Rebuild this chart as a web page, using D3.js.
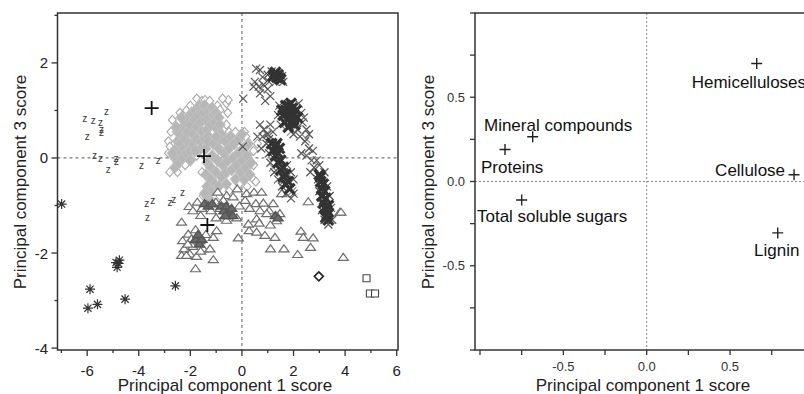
<!DOCTYPE html>
<html><head><meta charset="utf-8">
<script src="https://cdn.jsdelivr.net/npm/d3@7"></script>
<style>
html,body{margin:0;padding:0;background:#fff;}
svg{display:block;font-family:Arial,"Liberation Sans",sans-serif;}
</style></head>
<body>
<svg id="c" width="804" height="394"></svg>
<script>
// ---------- DATA: left panel (scores, PC1 vs PC3) ----------
const diamondEdge = [[-2.85,0.1],[-2.8,-0.3],[-2.75,0.55],[-2.7,0.8],[-2.4,0.95],[-2.15,1.0],[-2.0,1.1],[-1.75,1.25],[-1.55,1.2],[-1.43,1.22],[-1.25,1.2],[-0.95,1.1],[-0.85,1.01],[-0.6,1.15],[-0.53,1.22],[-0.55,0.95],[-0.6,0.7],[-2.5,-0.3],[-2.2,-0.15],[-1.75,0.05],[-2.85,0.35],[-2.79,0.24],[-0.75,1.25],
[-1.55,-0.3],[-1.55,0.1],[-1.5,-0.8],[-1.25,0.45],[-0.5,0.55],[-0.2,0.5],[0.1,0.55],[0.15,0.45],[0.45,0.15],[0.45,-0.15],[0.45,-0.45],[0.2,-0.6],[-0.1,-0.55],[-0.5,-0.7],[-0.85,-0.8],[-1.05,-0.95],[0.54,-0.5],[0.6,0.3],[-0.25,0.55],[-1.45,-1.0]];
const diamondCore = [[-2.6,-0.2],[-2.6,0.0],[-2.55,0.2],[-2.5,0.35],[-2.45,-0.1],[-2.4,0.1],[-2.4,0.3],[-2.35,0.5],[-2.3,0.65],[-2.25,0.2],[-2.2,0.4],[-2.2,0.75],[-2.1,0.55],[-2.1,0.85],[-2.05,0.3],[-2.0,0.7],[-1.95,0.95],[-1.9,0.5],[-1.85,0.8],[-1.8,1.0],[-1.75,0.65],[-1.7,0.9],[-1.65,1.1],[-1.6,0.75],[-1.55,0.55],[-1.5,0.95],[-1.45,1.1],[-1.4,0.8],[-1.35,0.6],[-1.3,1.0],[-1.25,0.85],[-1.2,0.7],[-1.15,1.05],[-1.1,0.9],[-1.05,0.75],[-1.0,0.95],[-0.95,0.6],[-0.9,0.85],[-0.85,0.7],[-0.8,0.5],[-2.5,0.55],[-2.3,0.0],[-2.15,0.1],[-2.0,0.15],[-1.9,0.3],[-1.75,0.4],[-1.6,0.35],[-1.45,0.4],[-1.3,0.45],[-1.6,0.2],[-1.8,0.15],[-2.0,-0.05],[-2.55,0.65],[-2.35,0.85],[-2.7,0.1],
[-1.4,0.2],[-1.3,0.35],[-1.35,-0.1],[-1.4,-0.35],[-1.35,-0.6],[-1.3,-0.85],[-1.2,-0.7],[-1.2,-0.45],[-1.2,-0.2],[-1.15,0.05],[-1.1,0.3],[-1.05,-0.55],[-1.0,-0.3],[-0.95,-0.05],[-0.9,0.2],[-0.85,0.4],[-0.8,-0.4],[-0.75,-0.15],[-0.7,0.1],[-0.65,0.35],[-0.6,-0.3],[-0.55,-0.05],[-0.5,0.2],[-0.45,0.45],[-0.4,-0.25],[-0.35,0.0],[-0.3,0.3],[-0.25,-0.45],[-0.2,-0.15],[-0.15,0.1],[-0.1,0.4],[-0.05,-0.3],[0.0,-0.05],[0.05,0.2],[0.1,-0.45],[0.15,-0.2],[0.2,0.05],[0.25,0.3],[0.3,-0.35],[0.35,-0.1],[-1.3,-0.95],[-1.45,-0.75],[-0.9,-0.6],[-0.6,-0.55],[0.0,0.5],[-1.0,0.45]];
const triangles = [[-0.94,-0.71],[-0.59,-0.78],[-0.18,-0.64],[0.18,-0.74],[0.47,-0.71],[0.76,-0.71],[1.54,-0.74],[2.57,-0.91],[3.8,-1.13],
[-2.05,-1.01],[-1.73,-0.92],[-1.37,-0.97],[-1.01,-0.92],[-0.72,-0.88],[-0.34,-0.81],[0.12,-0.88],[0.54,-0.95],[0.83,-0.94],[1.21,-0.95],
[-1.9,-1.1],[-1.55,-1.05],[-1.2,-1.1],[-0.85,-1.05],[-0.1,-1.0],[0.3,-1.05],[0.7,-1.1],[1.05,-1.1],
[-2.34,-1.34],[-1.6,-1.2],[-1.0,-1.25],[-0.6,-1.3],[-0.2,-1.25],[0.96,-1.16],[1.47,-1.16],[1.34,-1.31],[0.57,-1.27],[0.67,-1.36],[0.25,-1.38],[1.1,-1.4],
[0.28,-1.52],[0.57,-1.55],[0.89,-1.62],[1.28,-1.66],[-0.14,-1.67],[-0.98,-1.52],[-1.11,-1.66],[-1.63,-1.73],[-2.08,-1.59],[-1.95,-1.69],[-2.3,-1.73],[-1.4,-1.6],[-1.8,-1.5],
[-2.24,-1.9],[-2.34,-2.04],[-2.02,-2.01],[-1.76,-2.06],[-1.5,-1.9],[-1.24,-1.9],[-1.11,-2.13],[-1.8,-2.32],[-2.15,-2.04],[-1.9,-1.85],[-2.1,-1.8],[-1.6,-1.95],
[1.11,-1.9],[1.63,-1.9],[2.16,-2.02],[2.29,-1.53],[2.38,-1.66],[2.76,-1.67],[2.66,-1.87],[3.93,-2.08],[3.84,-1.13]];
const trianglesDark = [[-0.8,-1.0],[-0.7,-1.1],[-0.6,-1.0],[-0.5,-1.15],[-0.4,-1.05],[-0.55,-1.2],[-0.35,-1.2],[-0.65,-1.2],[-1.45,-0.95],[-1.3,-1.0],[-1.15,-0.95],[-1.8,-1.7],[-1.65,-1.8],[-1.55,-1.7],[-1.7,-1.6],[1.3,-1.2],[1.4,-1.25]];
const crosses = [[0.05,1.25],[0.55,1.88],[0.7,1.85],[0.45,1.5],[0.5,1.6],[0.65,1.5],[0.83,1.54],[0.8,1.7],[1.0,1.45],[1.05,1.6],[0.7,1.36],[1.1,1.3],[0.9,1.2],[1.15,1.82],[1.55,1.72],[1.6,1.6],[1.0,1.75],
[1.45,1.1],[1.5,0.7],[1.4,0.9],[2.2,1.15],[2.3,0.95],[2.35,0.75],[2.5,0.6],[2.6,0.5],[2.45,0.35],[2.25,0.45],[2.0,0.5],[2.15,0.6],[2.4,0.85],
[0.7,0.7],[0.85,0.6],[1.0,0.5],[0.8,0.45],[1.1,0.7],[1.2,0.55],[0.95,0.3],[1.05,0.4],[0.75,0.2],[0.6,0.45],
[1.05,0.1],[1.1,-0.1],[1.25,-0.3],[1.4,-0.45],[1.55,-0.6],[1.75,-0.15],[1.9,-0.3],[2.0,-0.45],[2.0,-0.75],[1.9,-0.85],[1.7,-0.75],
[2.3,0.1],[2.5,0.05],[2.7,-0.05],[2.8,-0.2],[2.6,0.2],[2.75,0.15],[2.9,-0.05],[3.0,-0.15],[2.65,-0.3],
[2.95,-0.45],[3.0,-0.7],[3.1,-1.1],[3.4,-0.8],[3.45,-1.05],[3.5,-1.3],[3.35,-1.4],[3.2,-0.3],[3.3,-0.6],[3.2,-1.3],[0.03,0.24]];
const crossesLight = [[0.75,1.45],[1.9,0.55],[1.95,-0.7],[1.6,-0.5],[0.95,0.5],[1.3,1.6],[2.5,0.4],[1.2,-0.2]];
const crossesDense = [[1.25,1.75],[1.3,1.8],[1.4,1.75],[1.35,1.7],[1.45,1.68],[1.5,1.65],[1.2,1.72],
[1.6,0.9],[1.7,1.0],[1.75,0.8],[1.8,1.1],[1.85,0.95],[1.9,0.75],[1.95,1.05],[2.0,0.9],[2.05,0.7],[2.1,1.0],[1.65,0.75],[1.9,1.15],[2.15,0.85],[1.7,1.1],[1.8,0.65],[1.55,1.0],[1.8,0.85],[2.0,0.8],
[1.15,0.3],[1.2,0.15],[1.3,0.25],[1.3,0.05],[1.4,0.1],[1.4,-0.1],[1.5,-0.05],[1.5,-0.25],[1.6,-0.2],[1.6,-0.4],[1.7,-0.35],[1.7,-0.55],[1.8,-0.5],[1.85,-0.65],[1.35,0.3],[1.45,0.2],
[3.0,-0.35],[3.05,-0.5],[3.1,-0.65],[3.1,-0.8],[3.15,-0.95],[3.2,-0.7],[3.2,-1.05],[3.25,-0.85],[3.3,-1.1],[3.3,-1.2],[3.35,-1.0],[3.05,-0.4],[3.15,-0.55],[3.25,-1.25],[3.35,-1.3]];
const zPoints = [[-6.09,0.84],[-5.76,0.78],[-5.48,0.75],[-5.25,0.97],[-6.0,0.46],[-5.44,0.60],[-5.44,0.53],[-5.72,0.06],[-5.48,-0.01],[-4.88,-0.01],[-4.86,-0.08],[-5.18,-0.25],[-3.89,-0.15],[-3.24,-0.06],[-3.69,-0.95],[-3.46,-0.9],[-2.79,-0.94],[-2.64,-0.87],[-2.3,-0.73],[-3.66,-1.25]];
const asterisks = [[-6.99,-0.97],[-4.88,-2.2],[-4.78,-2.22],[-4.84,-2.3],[-4.75,-2.15],[-5.89,-2.76],[-5.6,-3.08],[-5.97,-3.16],[-4.53,-2.97],[-2.58,-2.69]];
const plusScores = [[-3.5,1.05],[-1.47,0.04],[-1.34,-1.41]];
const diamondBlack = [[2.98,-2.49]];
const squares = [[4.83,-2.53],[4.96,-2.85],[5.16,-2.85]];
const leftXTicks = [-6,-4,-2,0,2,4,6];
const leftYTicks = [-4,-2,0,2];

// ---------- DATA: right panel (loadings) ----------
const varNames = ["Hemicelluloses","Mineral compounds","Proteins","Total soluble sugars","Cellulose","Lignin"];
const pc1Load = [0.66,-0.684,-0.85,-0.75,0.884,0.786];
const pc3Load = [0.70,0.266,0.19,-0.11,0.04,-0.305];
const rightTicks = [-0.5,0.0,0.5];

// label layout (style only)
const labelLayout = [{dx:-65,dy:24.4,a:"start"},{dx:-48.7,dy:-6,a:"start"},{dx:-24,dy:24,a:"start"},{dx:-44.7,dy:22.4,a:"start"},{dx:-9,dy:1,a:"end"},{dx:-23.7,dy:23,a:"start"}];

const svg = d3.select("#c");
svg.append("rect").attr("width",804).attr("height",394).attr("fill","#fff");
const AX = "#333";

// ---------- LEFT PANEL ----------
const xL = d3.scaleLinear().domain([-7.15,6.05]).range([57.5,398]);
const yL = d3.scaleLinear().domain([-4.04,3.05]).range([350,13]);
const gL = svg.append("g");

gL.append("line").attr("x1",xL(0)).attr("x2",xL(0)).attr("y1",13).attr("y2",350).attr("stroke","#777").attr("stroke-dasharray","3,3").attr("stroke-width",1.2);
gL.append("line").attr("x1",57.5).attr("x2",398).attr("y1",yL(0)).attr("y2",yL(0)).attr("stroke","#777").attr("stroke-dasharray","3,3").attr("stroke-width",1.2);

const diamondPath = (w,h)=>`M0,${-h}L${w},0L0,${h}L${-w},0Z`;
const triPath = "M-5,3.5L0,-3.5L5,3.5Z";
const xPath = s=>`M${-s},${-s}L${s},${s}M${-s},${s}L${s},${-s}`;
const plusPath = s=>`M${-s},0L${s},0M0,${-s}L0,${s}`;
const astPath = s=>{const d=s*0.72;return `M${-s},0L${s},0M0,${-s}L0,${s}M${-d},${-d}L${d},${d}M${-d},${d}L${d},${-d}`;};

function markers(data, path, attrs){
  const sel = gL.append("g").selectAll("path").data(data).join("path")
    .attr("transform",d=>`translate(${xL(d[0])},${yL(d[1])})`).attr("d",path);
  Object.entries(attrs).forEach(([k,v])=>sel.attr(k,v));
}
markers(diamondEdge, diamondPath(4,4.5), {fill:"#fff",stroke:"#a9a9a9","stroke-width":1.1});
markers(diamondCore, diamondPath(5.4,6.2), {fill:"#b7b7b7",stroke:"#c4c4c4","stroke-width":0.8});
markers(triangles, triPath, {fill:"#fff",stroke:"#6e6e6e","stroke-width":1.2});
markers(trianglesDark, triPath, {fill:"#6a6a6a",stroke:"#555","stroke-width":1.4});
markers(crossesLight, xPath(4), {fill:"none",stroke:"#9a9a9a","stroke-width":1.3});
markers(crosses, xPath(4), {fill:"none",stroke:"#555","stroke-width":1.2});
markers(crossesDense, xPath(5), {fill:"none",stroke:"#333","stroke-width":3.2});
markers(asterisks, astPath(5), {fill:"none",stroke:"#333","stroke-width":1.2});
markers(diamondBlack, diamondPath(4.5,4.5), {fill:"#fff",stroke:"#222","stroke-width":1.6});
markers(squares, "M-3.5,-3.5H3.5V3.5H-3.5Z", {fill:"#fff",stroke:"#444","stroke-width":1.1});
gL.append("g").selectAll("text").data(zPoints).join("text")
  .attr("x",d=>xL(d[0])).attr("y",d=>yL(d[1])+3.5).attr("text-anchor","middle")
  .attr("font-size",10).attr("fill","#3a3a3a").text("z");
markers(plusScores, plusPath(7), {fill:"none",stroke:"#111","stroke-width":1.8});

// frame and axes
gL.append("rect").attr("x",57.5).attr("y",13).attr("width",398-57.5).attr("height",337).attr("fill","none").attr("stroke",AX).attr("stroke-width",1.5);
gL.append("g").selectAll("line").data(d3.range(-7,7)).join("line")
  .attr("x1",d=>xL(d)).attr("x2",d=>xL(d)).attr("y1",350).attr("y2",d=>d%2===0?356:353).attr("stroke",AX).attr("stroke-width",1.3);
gL.append("g").selectAll("line").data(d3.range(-4,4)).join("line")
  .attr("y1",d=>yL(d)).attr("y2",d=>yL(d)).attr("x1",57.5).attr("x2",d=>d%2===0?51.5:54.5).attr("stroke",AX).attr("stroke-width",1.3);
gL.append("g").selectAll("text").data(leftXTicks).join("text")
  .attr("x",d=>xL(d)).attr("y",375.5).attr("text-anchor","middle").attr("font-size",15).attr("fill","#222").text(d=>d);
gL.append("g").selectAll("text").data(leftYTicks).join("text")
  .attr("x",48).attr("y",d=>yL(d)+5.5).attr("text-anchor","end").attr("font-size",15).attr("fill","#222").text(d=>d);
gL.append("text").attr("x",225).attr("y",391).attr("text-anchor","middle").attr("font-size",17).attr("fill","#222").text("Principal component 1 score");
gL.append("text").attr("transform","translate(26,182) rotate(-90)").attr("text-anchor","middle").attr("font-size",17).attr("fill","#222").text("Principal component 3 score");

// ---------- RIGHT PANEL ----------
const xR = d3.scaleLinear().domain([-1.03,1.03]).range([475,818.4]);
const yR = d3.scaleLinear().domain([-1,1]).range([350,13]);
const gR = svg.append("g");
gR.append("line").attr("x1",xR(0)).attr("x2",xR(0)).attr("y1",13).attr("y2",350).attr("stroke","#888").attr("stroke-dasharray","2,2").attr("stroke-width",1);
gR.append("line").attr("x1",475).attr("x2",818).attr("y1",yR(0)).attr("y2",yR(0)).attr("stroke","#888").attr("stroke-dasharray","2,2").attr("stroke-width",1);
gR.append("rect").attr("x",475).attr("y",13).attr("width",343).attr("height",337).attr("fill","none").attr("stroke",AX).attr("stroke-width",1.5);
const rt = [-1,-0.75,-0.5,-0.25,0,0.25,0.5,0.75,1];
gR.append("g").selectAll("line").data(rt).join("line")
  .attr("x1",d=>xR(d)).attr("x2",d=>xR(d)).attr("y1",350).attr("y2",355).attr("stroke",AX).attr("stroke-width",1.3);
gR.append("g").selectAll("line").data(rt).join("line")
  .attr("y1",d=>yR(d)).attr("y2",d=>yR(d)).attr("x1",475).attr("x2",470).attr("stroke",AX).attr("stroke-width",1.3);
gR.append("g").selectAll("text").data(rightTicks).join("text")
  .attr("x",d=>xR(d)).attr("y",371).attr("text-anchor","middle").attr("font-size",13).attr("fill","#333").text(d=>d.toFixed(1));
gR.append("g").selectAll("text").data(rightTicks).join("text")
  .attr("x",465).attr("y",d=>yR(d)+4.5).attr("text-anchor","end").attr("font-size",13).attr("fill","#333").text(d=>d.toFixed(1));
gR.append("text").attr("x",643).attr("y",391).attr("text-anchor","middle").attr("font-size",17).attr("fill","#222").text("Principal component 1 score");
gR.append("text").attr("transform","translate(434,182) rotate(-90)").attr("text-anchor","middle").attr("font-size",17).attr("fill","#222").text("Principal component 3 score");

const loads = varNames.map((n,i)=>({n, x:pc1Load[i], y:pc3Load[i], L:labelLayout[i]}));
gR.append("g").selectAll("path").data(loads).join("path")
  .attr("transform",d=>`translate(${xR(d.x)},${yR(d.y)})`).attr("d",plusPath(5.5))
  .attr("stroke","#222").attr("stroke-width",1.4).attr("fill","none");
gR.append("g").selectAll("text").data(loads).join("text")
  .attr("x",d=>xR(d.x)+d.L.dx).attr("y",d=>yR(d.y)+d.L.dy).attr("text-anchor",d=>d.L.a)
  .attr("font-size",17).attr("fill","#111").text(d=>d.n);
</script>
</body></html>
